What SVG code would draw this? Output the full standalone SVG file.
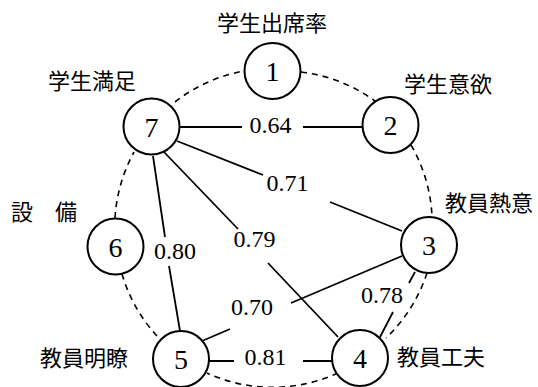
<svg xmlns="http://www.w3.org/2000/svg" width="538" height="387" viewBox="0 0 538 387">
<style>
.bg{fill:#fff}
.node circle{fill:#fff;stroke:#000;stroke-width:2}
.num{font-family:"Liberation Serif","DejaVu Serif",serif;font-size:28px;text-anchor:middle;fill:#000}
.lbl{font-family:"Liberation Serif","DejaVu Serif",serif;font-size:24px;text-anchor:middle;fill:#000}
.jp{font-family:"Noto Sans CJK JP","Noto Sans CJK SC",sans-serif;font-size:22px;fill:#000}
.e{stroke:#000;stroke-width:1.8;fill:none}
.d{stroke:#000;stroke-width:1.6;fill:none;stroke-dasharray:6 5}
</style>
<rect class="bg" width="538" height="387"/>
<g id="connectors">
<!-- dashed ring arcs -->
<path class="d" d="M175,102 A157,157 0 0 1 244,71"/>
<path class="d" d="M301,72 A157,157 0 0 1 375,101"/>
<path class="d" d="M411,145 A157,157 0 0 1 432,216"/>
<path class="d" d="M427,273 A157,157 0 0 1 386,338"/>
<path class="d" d="M338,373 A157,157 0 0 1 207,373"/>
<path class="d" d="M157,336 A157,157 0 0 1 122,274"/>
<path class="d" d="M115,218 A157,157 0 0 1 134,152"/>
<!-- 7-2 -->
<path class="e" d="M180,127 H242 M303,127 H362"/>
<!-- 7-3 -->
<path class="e" d="M177,141 L263,175 M330,202 L402,231"/>
<!-- 7-4 -->
<path class="e" d="M164,152 L238,229 M268,263 L338,337"/>
<!-- 7-5 -->
<path class="e" d="M153,156 L165,237 M169,266 L180,331"/>
<!-- 5-3 -->
<path class="e" d="M202,341 L230,329 M291,303 L402,256"/>
<!-- 5-4 -->
<path class="e" d="M209,361 H234 M303,361 H332"/>
<!-- 3-4 -->
<path class="e" d="M415,272 L409,283 M393,312 L379,339"/>
</g>
<g id="edge-labels">
<text class="lbl" x="270.5" y="133">0.64</text>
<text class="lbl" x="287.5" y="191">0.71</text>
<text class="lbl" x="254.5" y="247">0.79</text>
<text class="lbl" x="175" y="259">0.80</text>
<text class="lbl" x="252" y="315">0.70</text>
<text class="lbl" x="265.5" y="365">0.81</text>
<text class="lbl" x="382" y="303">0.78</text>
</g>
<g id="n1" class="node"><circle cx="272.5" cy="71" r="28"/><text class="num" x="272.5" y="81">1</text><text class="jp" x="217" y="31">学生出席率</text></g>
<g id="n2" class="node"><circle cx="390.5" cy="125" r="28"/><text class="num" x="390.5" y="135">2</text><text class="jp" x="404" y="92">学生意欲</text></g>
<g id="n3" class="node"><circle cx="429" cy="245" r="28"/><text class="num" x="429" y="255">3</text><text class="jp" x="445" y="211">教員熱意</text></g>
<g id="n4" class="node"><circle cx="360" cy="358" r="28"/><text class="num" x="360" y="368">4</text><text class="jp" x="397" y="365">教員工夫</text></g>
<g id="n5" class="node"><circle cx="181" cy="359" r="28"/><text class="num" x="181" y="369">5</text><text class="jp" x="40" y="366">教員明瞭</text></g>
<g id="n6" class="node"><circle cx="115.5" cy="246.5" r="28"/><text class="num" x="115.5" y="256.5">6</text><text class="jp" x="11" y="220">設　備</text></g>
<g id="n7" class="node"><circle cx="151.5" cy="126.5" r="28"/><text class="num" x="151.5" y="136.5">7</text><text class="jp" x="48" y="89">学生満足</text></g>
</svg>
